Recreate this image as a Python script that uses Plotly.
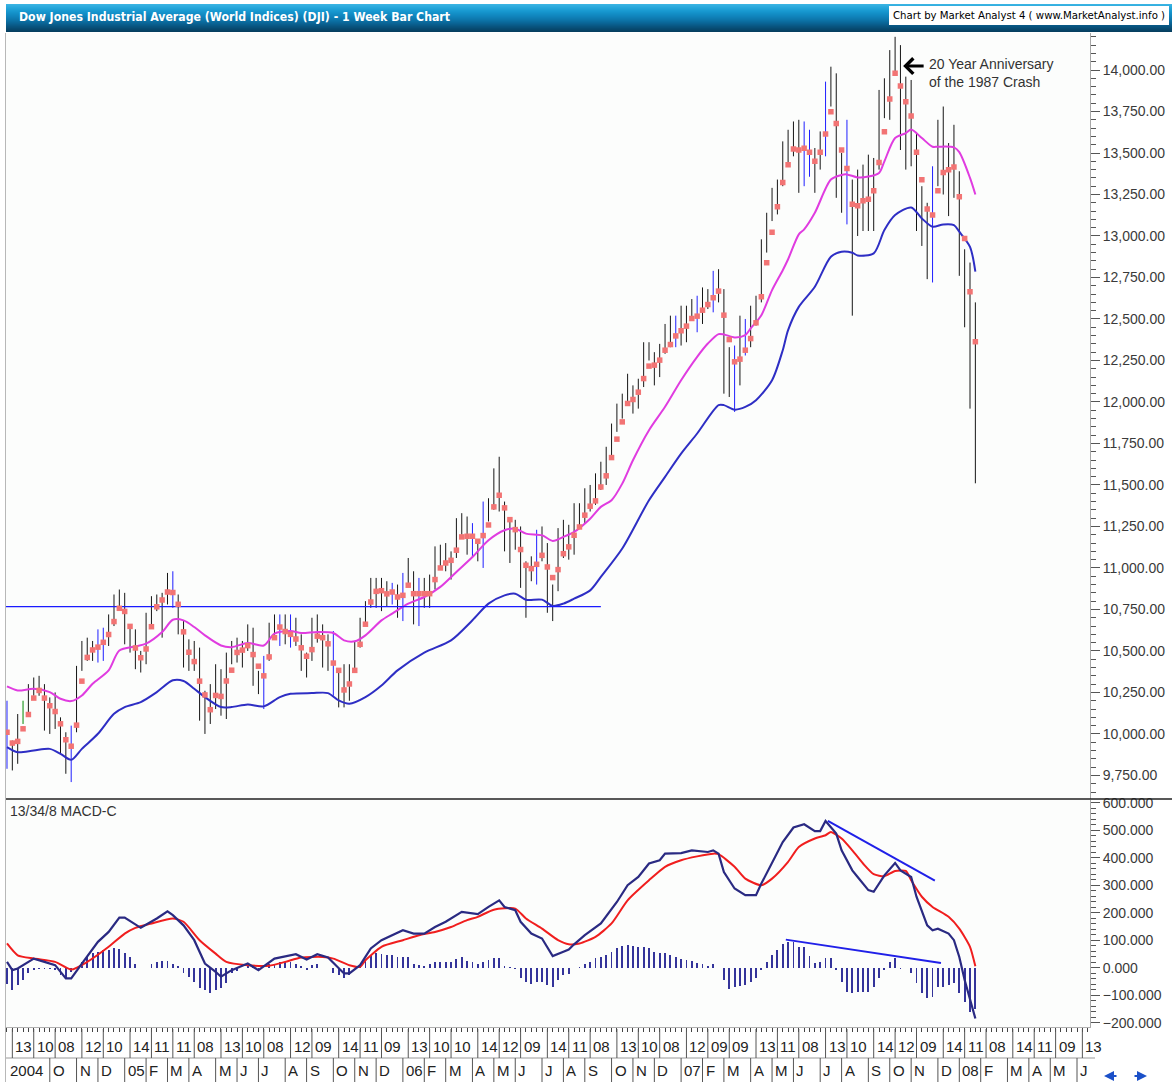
import plotly.graph_objects as go
import pandas as pd

# ---------------- DATA ----------------
# weekly bars, week ending Friday
week_dates = pd.date_range("2004-08-06", periods=182, freq="7D")

opens = [10140, 9815, 9825, 10110, 10195, 10260, 10314, 10284, 10047, 10192,
         10055, 9933, 9757, 10027, 10387, 10539, 10456, 10522, 10592, 10543,
         10661, 10827, 10783, 10603, 10558, 10392, 10427, 10716, 10796, 10785,
         10841, 10940, 10774, 10629, 10442, 10404, 10461, 10088, 10157, 10193,
         10345, 10140, 10471, 10542, 10460, 10513, 10623, 10297, 10303, 10449,
         10640, 10651, 10641, 10558, 10600, 10559, 10397, 10447, 10679, 10641,
         10420, 10569, 10292, 10287, 10215, 10402, 10531, 10686, 10766, 10932,
         10878, 10779, 10876, 10884, 10718, 10959, 10960, 10668, 10907, 10794,
         10920, 11115, 11062, 11022, 11076, 11279, 11280, 11109, 11120, 11137,
         11347, 11367, 11577, 11380, 11144, 11278, 11247, 10891, 11015, 10990,
         11150, 11090, 10739, 10868, 11219, 11240, 11089, 11381, 11284, 11464,
         11392, 11560, 11508, 11679, 11850, 11960, 12002, 12090, 11986, 12108,
         12342, 12280, 12194, 12307, 12445, 12343, 12463, 12398, 12556, 12565,
         12487, 12653, 12580, 12767, 12647, 12114, 12276, 12110, 12481, 12354,
         12560, 12612, 12961, 13120, 13265, 13327, 13556, 13507, 13668, 13424,
         13639, 13360, 13408, 13611, 13907, 13851, 13265, 13182, 13240, 13079,
         13379, 13358, 13113, 13442, 13820, 13896, 14066, 14093, 13522, 13807,
         13595, 13042, 13177, 12980, 13372, 13626, 13340, 13450, 13366, 12800,
         12606, 12099]

highs = [10200, 9960, 10120, 10200, 10300, 10340, 10350, 10300, 10220, 10250,
         10100, 10010, 10050, 10410, 10560, 10580, 10560, 10630, 10640, 10720,
         10840, 10870, 10850, 10660, 10630, 10500, 10730, 10830, 10840, 10850,
         10970, 10980, 10840, 10680, 10570, 10560, 10520, 10260, 10300, 10420,
         10390, 10490, 10560, 10580, 10560, 10660, 10640, 10380, 10470, 10670,
         10720, 10720, 10720, 10720, 10700, 10600, 10490, 10700, 10720, 10660,
         10600, 10620, 10380, 10420, 10420, 10560, 10700, 10800, 10940, 10940,
         10940, 10920, 10910, 10900, 10970, 11060, 10980, 10940, 10940, 10960,
         11130, 11140, 11150, 11100, 11300, 11330, 11310, 11270, 11160, 11400,
         11420, 11600, 11670, 11400, 11300, 11290, 11250, 11040, 11070, 11230,
         11250, 11150, 10900, 11240, 11290, 11260, 11390, 11390, 11480, 11500,
         11570, 11640, 11730, 11870, 11990, 12050, 12170, 12100, 12140, 12360,
         12360, 12300, 12350, 12470, 12520, 12520, 12580, 12580, 12620, 12640,
         12690, 12680, 12790, 12800, 12680, 12330, 12340, 12520, 12500, 12580,
         12640, 12980, 13140, 13290, 13340, 13570, 13640, 13690, 13700, 13690,
         13640, 13530, 13630, 13930, 14020, 13980, 13500, 13700, 13340, 13400,
         13430, 13490, 13470, 13880, 13950, 14120, 14200, 14150, 13960, 13940,
         13620, 13300, 13200, 13420, 13700, 13780, 13560, 13670, 13390, 12920,
         12840, 12600]

lows = [9790, 9780, 9820, 10060, 10120, 10230, 10230, 10020, 10000, 10030,
        9880, 9760, 9710, 10010, 10380, 10440, 10440, 10430, 10440, 10530,
        10650, 10760, 10540, 10490, 10390, 10370, 10420, 10650, 10740, 10580,
        10780, 10760, 10600, 10400, 10380, 10380, 10080, 10000, 10060, 10150,
        10110, 10090, 10420, 10430, 10400, 10500, 10290, 10240, 10150, 10440,
        10570, 10530, 10540, 10520, 10530, 10380, 10340, 10440, 10550, 10400,
        10380, 10230, 10160, 10160, 10200, 10390, 10520, 10650, 10760, 10760,
        10740, 10770, 10780, 10700, 10680, 10900, 10660, 10650, 10760, 10760,
        10870, 11000, 10980, 10930, 11060, 11200, 11080, 11060, 11040, 11000,
        11280, 11350, 11340, 11100, 11030, 11110, 10880, 10700, 10920, 10900,
        11040, 10730, 10680, 10860, 11060, 11050, 11080, 11240, 11270, 11340,
        11380, 11470, 11500, 11660, 11820, 11900, 11990, 11930, 11960, 12090,
        12250, 12100, 12150, 12290, 12330, 12330, 12340, 12360, 12500, 12420,
        12470, 12560, 12540, 12600, 12050, 12030, 11940, 12100, 12280, 12330,
        12460, 12600, 12900, 13090, 13130, 13300, 13430, 13480, 13260, 13300,
        13357, 13260, 13400, 13480, 13780, 13230, 13140, 13070, 12520, 13000,
        13030, 13030, 13030, 13400, 13710, 13700, 13990, 13518, 13400, 13420,
        13030, 12940, 12740, 12720, 13300, 13250, 13120, 13230, 12760, 12450,
        11960, 11510]

closes = [9815, 9825, 10110, 10195, 10260, 10314, 10284, 10047, 10192, 10055,
          9933, 9757, 10027, 10387, 10539, 10456, 10522, 10592, 10543, 10661,
          10827, 10783, 10603, 10558, 10392, 10427, 10716, 10796, 10785, 10841,
          10940, 10774, 10629, 10442, 10404, 10461, 10088, 10157, 10193, 10345,
          10140, 10471, 10542, 10460, 10513, 10623, 10297, 10303, 10449, 10640,
          10651, 10641, 10558, 10600, 10559, 10397, 10447, 10679, 10641, 10420,
          10569, 10292, 10287, 10215, 10402, 10531, 10686, 10766, 10932, 10878,
          10779, 10876, 10884, 10718, 10959, 10960, 10668, 10907, 10794, 10920,
          11115, 11062, 11022, 11076, 11279, 11280, 11109, 11120, 11137, 11347,
          11367, 11577, 11380, 11144, 11278, 11247, 10891, 11015, 10990, 11150,
          11090, 10739, 10868, 11219, 11240, 11089, 11381, 11284, 11464, 11392,
          11560, 11508, 11679, 11850, 11960, 12002, 12090, 11986, 12108, 12342,
          12280, 12194, 12307, 12445, 12343, 12463, 12398, 12556, 12565, 12487,
          12653, 12580, 12767, 12647, 12114, 12276, 12110, 12481, 12354, 12560,
          12612, 12961, 13120, 13265, 13327, 13556, 13507, 13668, 13424, 13639,
          13360, 13408, 13611, 13907, 13851, 13265, 13182, 13240, 13079, 13379,
          13358, 13113, 13442, 13820, 13896, 14066, 14093, 13522, 13807, 13595,
          13042, 13177, 12980, 13372, 13626, 13340, 13450, 13366, 12800, 12606,
          12099, 12207]

# red markers (short average shown on each bar)
red_dots = [10010, 9945, 9955, 10031, 10117, 10216, 10262, 10216, 10170, 10135,
            10061, 9965, 9926, 10053, 10318, 10461, 10506, 10523, 10552, 10599,
            10677, 10757, 10738, 10648, 10518, 10459, 10512, 10646, 10766, 10807,
            10855, 10852, 10781, 10615, 10492, 10436, 10318, 10235, 10146, 10232,
            10226, 10319, 10384, 10491, 10505, 10532, 10478, 10408, 10350, 10464,
            10580, 10644, 10617, 10600, 10572, 10519, 10468, 10508, 10589, 10580,
            10543, 10427, 10383, 10265, 10301, 10383, 10540, 10661, 10795, 10859,
            10863, 10844, 10855, 10825, 10835, 10896, 10845, 10845, 10845, 10845,
            10930, 11000, 11030, 11046, 11107, 11187, 11191, 11191, 11161, 11195,
            11259, 11368, 11438, 11362, 11291, 11231, 11111, 11016, 10996, 11022,
            11076, 11006, 10942, 10990, 11086, 11127, 11197, 11247, 11318, 11372,
            11404, 11488, 11555, 11665, 11776, 11880, 11991, 12015, 12059, 12141,
            12216, 12222, 12252, 12312, 12346, 12398, 12429, 12457, 12503, 12517,
            12553, 12587, 12628, 12668, 12523, 12376, 12242, 12258, 12312, 12382,
            12477, 12634, 12839, 13022, 13176, 13323, 13429, 13524, 13518, 13528,
            13504, 13451, 13504, 13614, 13749, 13678, 13518, 13407, 13192, 13182,
            13212, 13222, 13273, 13443, 13628, 13825, 13980, 13904, 13809, 13723,
            13504, 13339, 13162, 13126, 13273, 13383, 13399, 13415, 13237, 12985,
            12664, 12363]

blue_bar_weeks = [0, 12, 17, 18, 31, 48, 51, 53, 61, 72, 74, 77, 87, 89, 99,
                  125, 129, 132, 136, 138, 149, 150, 153, 157, 173]
green_bar_weeks = [3]

# moving averages read at sample weeks
ma_fast_weeks = [0, 2, 5, 8, 10, 12, 14, 16, 19, 21, 24, 26, 29, 31, 33, 35, 37, 40, 42, 45,
                 48, 50, 53, 55, 58, 61, 63, 65, 67, 70, 72, 75, 78, 81, 84, 87, 90, 93, 95, 97,
                 100, 102, 104, 106, 109, 111, 113, 115, 117, 120, 123, 126, 129, 131, 133, 134,
                 136, 138, 139, 141, 143, 145, 146, 148, 149, 151, 154, 156, 157, 159, 161, 163,
                 164, 166, 168, 169, 171, 173, 174, 177, 178, 180, 181]
ma_fast_vals = [10286, 10262, 10272, 10252, 10212, 10198, 10232, 10302, 10383, 10503, 10527,
                10544, 10614, 10688, 10684, 10644, 10594, 10533, 10523, 10548, 10533, 10604,
                10620, 10608, 10614, 10608, 10564, 10558, 10594, 10684, 10725, 10785, 10825,
                10886, 10976, 11066, 11167, 11227, 11237, 11207, 11197, 11163, 11187, 11217,
                11297, 11368, 11408, 11508, 11649, 11830, 11971, 12131, 12272, 12352, 12409,
                12407, 12389, 12403, 12443, 12523, 12674, 12794, 12860, 13010, 13040, 13140,
                13340, 13368, 13371, 13353, 13358, 13380, 13450, 13590, 13620, 13642, 13590,
                13538, 13538, 13534, 13505, 13350, 13250]

ma_slow_weeks = [0, 2, 5, 8, 10, 12, 14, 17, 20, 22, 25, 28, 31, 33, 35, 37, 40, 42, 45, 48,
                 51, 53, 57, 60, 62, 64, 67, 70, 73, 78, 83, 87, 90, 93, 95, 97, 100, 102, 104,
                 106, 109, 111, 115, 120, 123, 126, 129, 133, 134, 136, 138, 140, 143, 145, 146,
                 148, 151, 154, 156, 158, 159, 162, 164, 166, 169, 171, 173, 175, 177, 178, 180, 181]
ma_slow_vals = [9921, 9890, 9900, 9910, 9880, 9844, 9910, 10001, 10121, 10162, 10192, 10252,
                10323, 10319, 10272, 10222, 10162, 10162, 10178, 10166, 10222, 10242, 10246,
                10246, 10202, 10182, 10222, 10292, 10383, 10490, 10564, 10685, 10785, 10835,
                10845, 10809, 10809, 10771, 10785, 10815, 10865, 10946, 11117, 11408, 11549,
                11689, 11810, 11981, 11981, 11954, 11970, 12011, 12131, 12312, 12433, 12573,
                12694, 12875, 12905, 12899, 12883, 12895, 13036, 13126, 13172, 13106, 13056,
                13070, 13066, 13026, 12935, 12785]

# MACD (13/34/8) read at sample weeks
macd_weeks = [0, 1, 2, 5, 7, 9, 11, 12, 14, 17, 19, 21, 22, 25, 28, 30, 31, 33, 35, 37, 39, 40,
              42, 45, 47, 50, 54, 56, 58, 60, 63, 64, 66, 68, 70, 72, 74, 76, 78, 80, 82, 85, 88,
              90, 92, 93, 95, 96, 98, 100, 101, 102, 104, 105, 106, 108, 111, 114, 116, 118, 120,
              122, 123, 126, 128, 131, 132, 133, 134, 136, 138, 140, 141, 143, 145, 147, 149, 151,
              152, 153, 155, 156, 158, 159, 161, 162, 164, 166, 167, 169, 170, 172, 173, 174, 176,
              177, 178, 179, 180, 181]
macd_vals = [21, -9, -3, 33, 21, 9, -39, -39, 15, 94, 130, 182, 182, 145, 179, 205, 191, 154, 100,
             15, -15, -33, -9, 15, -9, 33, 49, 30, 49, 37, -21, -21, 9, 70, 100, 118, 136, 124,
             124, 148, 167, 203, 195, 221, 245, 221, 209, 167, 124, 106, 76, 42, 58, 66, 85, 118,
             161, 239, 300, 330, 379, 391, 415, 417, 427, 421, 427, 415, 348, 288, 264, 264, 306,
             379, 457, 510, 522, 497, 497, 534, 488, 427, 354, 330, 282, 276, 336, 381, 354, 330,
             258, 154, 136, 142, 124, 100, 39, -45, -118, -185]

signal_weeks = [0, 2, 5, 9, 12, 15, 19, 22, 24, 27, 31, 33, 36, 39, 41, 45, 49, 52, 55, 59, 61,
                64, 66, 67, 70, 74, 77, 80, 83, 86, 88, 91, 95, 97, 100, 103, 105, 107, 110, 113,
                116, 120, 123, 126, 129, 132, 133, 136, 138, 141, 143, 146, 148, 151, 153, 154,
                156, 158, 160, 162, 164, 166, 168, 169, 171, 173, 176, 178, 180, 181]
signal_vals = [88, 45, 33, 21, -7, 21, 76, 124, 145, 161, 179, 167, 100, 51, 21, 9, 7, 21, 37, 39,
               33, 9, 3, 27, 76, 100, 118, 130, 148, 173, 185, 211, 215, 179, 142, 100, 85, 88, 112,
               161, 245, 318, 367, 391, 405, 415, 413, 367, 324, 300, 324, 385, 439, 470, 482, 494,
               470, 427, 379, 340, 333, 352, 352, 318, 258, 221, 185, 142, 76, 5]

macd_hist = [-60, -82, -63, -45, -21, -8, -4, -6, -6, -8, -27, -39, -15, 0, 22, 40, 52, 58, 64, 66,
             70, 68, 52, 37, 12, 0, 0, 15, 22, 25, 25, 15, 6, -21, -33, -51, -75, -82, -91, -82,
             -75, -55, -21, -11, 0, 10, 10, -11, 0, 12, 15, 19, 22, 22, 15, 6, -8, 10, 12, 0,
             0, -21, -27, -39, -27, 0, 10, 30, 46, 52, 50, 46, 46, 37, 37, 37, 15, 10, 7, 15,
             22, 22, 22, 22, 30, 37, 25, 19, 13, 22, 28, 34, 34, 6, 2, -4, -39, -51, -60, -51,
             -51, -63, -70, -45, -27, -23, 0, 2, 15, 22, 34, 40, 46, 58, 70, 78, 82, 78, 76, 76,
             73, 58, 54, 54, 46, 40, 30, 28, 25, 18, 15, 7, 12, 0, -45, -79, -70, -67, -63, -51,
             -39, -8, 22, 46, 64, 85, 94, 94, 76, 76, 42, 18, 22, 34, 34, -8, -51, -88, -91, -88,
             -88, -88, -72, -39, -8, 22, 34, -6, 0, -21, -57, -94, -112, -106, -70, -70, -63, -57,
             -94, -124, -160, -150]

# drawn lines
support_dates = ["2004-08-04", "2006-09-22"]
support_levels = [10767, 10767]
macd_trend_top_dates = ["2007-07-16", "2007-12-03"]
macd_trend_top_vals = [534, 317]
macd_trend_hist_dates = ["2007-05-22", "2007-12-11"]
macd_trend_hist_vals = [102, 17]

# axis labels
day_tick_dates = ["2004-08-13", "2004-09-10", "2004-10-08", "2004-11-12", "2004-12-10",
                  "2005-01-14", "2005-02-11", "2005-03-11", "2005-04-08", "2005-05-13",
                  "2005-06-10", "2005-07-08", "2005-08-12", "2005-09-09", "2005-10-14",
                  "2005-11-11", "2005-12-09", "2006-01-13", "2006-02-10", "2006-03-10",
                  "2006-04-14", "2006-05-12", "2006-06-09", "2006-07-14", "2006-08-11",
                  "2006-09-08", "2006-10-13", "2006-11-10", "2006-12-08", "2007-01-12",
                  "2007-02-09", "2007-03-09", "2007-04-13", "2007-05-11", "2007-06-08",
                  "2007-07-13", "2007-08-10", "2007-09-14", "2007-10-12", "2007-11-09",
                  "2007-12-14", "2008-01-11", "2008-02-08", "2008-03-14", "2008-04-11",
                  "2008-05-09", "2008-06-13"]
day_tick_text = ["13", "10", "08", "12", "10", "14", "11", "11", "08", "13", "10", "08", "12",
                 "09", "14", "11", "09", "13", "10", "10", "14", "12", "09", "14", "11", "08",
                 "13", "10", "08", "12", "09", "09", "13", "11", "08", "13", "10", "14", "12",
                 "09", "14", "11", "08", "14", "11", "09", "13"]
month_dates = ["2004-08-06", "2004-10-01", "2004-11-05", "2004-12-03", "2005-01-07",
               "2005-02-04", "2005-03-04", "2005-04-01", "2005-05-06", "2005-06-03",
               "2005-07-01", "2005-08-05", "2005-09-02", "2005-10-07", "2005-11-04",
               "2005-12-02", "2006-01-06", "2006-02-03", "2006-03-03", "2006-04-07",
               "2006-05-05", "2006-06-02", "2006-07-07", "2006-08-04", "2006-09-01",
               "2006-10-06", "2006-11-03", "2006-12-01", "2007-01-05", "2007-02-02",
               "2007-03-02", "2007-04-06", "2007-05-04", "2007-06-01", "2007-07-06",
               "2007-08-03", "2007-09-07", "2007-10-05", "2007-11-02", "2007-12-07",
               "2008-01-04", "2008-02-01", "2008-03-07", "2008-04-04", "2008-05-02",
               "2008-06-06"]
month_text = ["2004", "O", "N", "D", "05", "F", "M", "A", "M", "J", "J", "A", "S", "O", "N",
              "D", "06", "F", "M", "A", "M", "J", "J", "A", "S", "O", "N", "D", "07", "F", "M",
              "A", "M", "J", "J", "A", "S", "O", "N", "D", "08", "F", "M", "A", "M", "J"]

# ---------------- LAYOUT HELPERS ----------------
W, H = 1172, 1082
def py(p):
    return 1 - p / H
def pxx(p):
    return p / W

FONT = "Liberation Sans, Arial, sans-serif"
COND = "DejaVu Sans Condensed, Liberation Sans Narrow, Arial Narrow, sans-serif"
X = list(week_dates)

fig = go.Figure()

# ---------------- PRICE PANEL ----------------
black_weeks = [i for i in range(len(closes)) if i not in blue_bar_weeks and i not in green_bar_weeks]
for idx, col in ((black_weeks, "#161616"), (blue_bar_weeks, "#1f1fff"), (green_bar_weeks, "#008a00")):
    fig.add_trace(go.Ohlc(
        x=[X[i] for i in idx], open=[opens[i] for i in idx], high=[highs[i] for i in idx],
        low=[lows[i] for i in idx], close=[closes[i] for i in idx],
        increasing=dict(line=dict(color=col)), decreasing=dict(line=dict(color=col)),
        line=dict(width=1), tickwidth=0.45, xaxis="x", yaxis="y",
        showlegend=False, hoverinfo="skip"))

fig.add_trace(go.Scatter(x=[X[i] for i in ma_fast_weeks], y=ma_fast_vals, mode="lines",
                         line=dict(color="#e03ce0", width=2, shape="spline", smoothing=0.8),
                         xaxis="x", yaxis="y", showlegend=False, hoverinfo="skip"))
fig.add_trace(go.Scatter(x=[X[i] for i in ma_slow_weeks], y=ma_slow_vals, mode="lines",
                         line=dict(color="#2e2ec4", width=2, shape="spline", smoothing=0.8),
                         xaxis="x", yaxis="y", showlegend=False, hoverinfo="skip"))
fig.add_trace(go.Scatter(x=support_dates, y=support_levels, mode="lines",
                         line=dict(color="#1a1aff", width=1.3),
                         xaxis="x", yaxis="y", showlegend=False, hoverinfo="skip"))
fig.add_trace(go.Scatter(x=X, y=red_dots, mode="markers",
                         marker=dict(symbol="square", size=5.5, color="#f27474", line=dict(width=0)),
                         xaxis="x", yaxis="y", showlegend=False, hoverinfo="skip"))

# ---------------- MACD PANEL ----------------
fig.add_trace(go.Bar(x=X, y=macd_hist, width=2.1e8, marker=dict(color="#34349a", line=dict(width=0)),
                     xaxis="x2", yaxis="y2", showlegend=False, hoverinfo="skip"))
fig.add_trace(go.Scatter(x=[X[i] for i in signal_weeks], y=signal_vals, mode="lines",
                         line=dict(color="#f01e1e", width=2, shape="spline", smoothing=0.6),
                         xaxis="x2", yaxis="y2", showlegend=False, hoverinfo="skip"))
fig.add_trace(go.Scatter(x=[X[i] for i in macd_weeks], y=macd_vals, mode="lines",
                         line=dict(color="#2a2a82", width=2.2),
                         xaxis="x2", yaxis="y2", showlegend=False, hoverinfo="skip"))
fig.add_trace(go.Scatter(x=macd_trend_top_dates, y=macd_trend_top_vals, mode="lines",
                         line=dict(color="#2020e8", width=2),
                         xaxis="x2", yaxis="y2", showlegend=False, hoverinfo="skip"))
fig.add_trace(go.Scatter(x=macd_trend_hist_dates, y=macd_trend_hist_vals, mode="lines",
                         line=dict(color="#2020e8", width=2),
                         xaxis="x2", yaxis="y2", showlegend=False, hoverinfo="skip"))

xr = ["2004-08-04 17:00", "2008-06-23 00:00"]
xdom = [pxx(6), pxx(1090)]
tickfont = dict(family=FONT, size=14, color="#3a3a3a")

fig.update_layout(
    width=W, height=H, margin=dict(l=0, r=0, t=0, b=0, autoexpand=False),
    paper_bgcolor="white", plot_bgcolor="#fcfdfc",
    xaxis=dict(domain=xdom, range=xr, type="date", anchor="y", showticklabels=False,
               rangeslider=dict(visible=False), automargin=False,
               showgrid=False, zeroline=False, showline=False, ticks=""),
    yaxis=dict(domain=[py(798.5), py(33)], range=[9611, 14223], side="right", anchor="x",
               automargin=False,
               showgrid=False, zeroline=False, showline=True, linecolor="#a8a8a8", linewidth=1,
               tickmode="linear", tick0=9750, dtick=250, tickformat=",.2f",
               ticks="outside", ticklen=9, tickcolor="#555", tickfont=tickfont,
               minor=dict(ticks="outside", ticklen=5, dtick=50, tick0=9750, tickcolor="#555")),
    xaxis2=dict(domain=xdom, range=xr, type="date", anchor="y2", matches="x", showticklabels=False,
                rangeslider=dict(visible=False), automargin=False,
                showgrid=False, zeroline=False, showline=True, linecolor="#b0b0b0",
                tickmode="linear", tick0="2004-08-06", dtick=7 * 86400000,
                ticks="outside", ticklen=4, tickcolor="#444"),
    yaxis2=dict(domain=[py(1027), py(799.5)], range=[-216, 612], side="right", anchor="x2",
                automargin=False,
                showgrid=False, zeroline=False, showline=True, linecolor="#a8a8a8",
                tickmode="linear", tick0=0, dtick=100, tickformat=".3f",
                ticks="outside", ticklen=9, tickcolor="#555", tickfont=tickfont,
                minor=dict(ticks="outside", ticklen=5, dtick=20, tickcolor="#555")),
    bargap=0,
)

shapes = []
# title bar gradient
grad = ["#3ab3e2", "#33afe0", "#2dabde", "#27a7db", "#22a3d8", "#1e9fd5", "#1a9bd2", "#1797cf",
        "#1593cb", "#138fc7", "#128bc3", "#1187bf", "#1083bb", "#0f7fb6", "#0e7bb1", "#0d77ac",
        "#0c72a6", "#0b6da0", "#0a689a", "#0a6394", "#095e8d", "#095986", "#08547f", "#085079",
        "#074b72", "#07476c", "#064366", "#063f60"]
for k, c in enumerate(grad):
    shapes.append(dict(type="rect", xref="paper", yref="paper", x0=pxx(6), x1=1,
                       y0=py(4 + k + 1), y1=py(4 + k), fillcolor=c, line=dict(width=0), layer="below"))
# credit box
shapes.append(dict(type="rect", xref="paper", yref="paper", x0=pxx(889), x1=pxx(1169),
                   y0=py(25), y1=py(6), fillcolor="white", line=dict(width=0), layer="below"))
# panel separators
shapes.append(dict(type="line", xref="paper", yref="paper", x0=pxx(6), x1=pxx(1172),
                   y0=py(799), y1=py(799), line=dict(color="#202020", width=1.5)))
shapes.append(dict(type="line", xref="paper", yref="paper", x0=pxx(6), x1=pxx(1095),
                   y0=py(1058), y1=py(1058), line=dict(color="#9a9a9a", width=1)))
shapes.append(dict(type="line", xref="paper", yref="paper", x0=pxx(5.5), x1=pxx(5.5),
                   y0=py(1082), y1=py(33), line=dict(color="#b8b8b8", width=1)))
# x-axis label grid
for d in day_tick_dates:
    shapes.append(dict(type="line", xref="x2", yref="paper", x0=d, x1=d, y0=py(1058), y1=py(1029),
                       line=dict(color="#555", width=1)))
for d in month_dates[1:]:
    shapes.append(dict(type="line", xref="x2", yref="paper", x0=d, x1=d, y0=py(1082), y1=py(1058),
                       line=dict(color="#555", width=1)))
fig.update_layout(shapes=shapes)

ann = []
ann.append(dict(text="<b>Dow Jones Industrial Average (World Indices) (DJI) - 1 Week Bar Chart</b>",
                x=pxx(17), y=py(17), xref="paper", yref="paper", xanchor="left", yanchor="middle",
                showarrow=False, font=dict(family=COND, size=12.2, color="white")))
ann.append(dict(text="Chart by Market Analyst 4 ( www.MarketAnalyst.info )",
                x=pxx(891), y=py(15.5), xref="paper", yref="paper", xanchor="left", yanchor="middle",
                showarrow=False, font=dict(family=COND, size=11.3, color="black")))
ann.append(dict(text="13/34/8 MACD-C", x=pxx(8), y=py(811), xref="paper", yref="paper",
                xanchor="left", yanchor="middle", showarrow=False,
                font=dict(family=FONT, size=14, color="#333")))
ann.append(dict(text="20 Year Anniversary<br>of the 1987 Crash", x=pxx(927), y=py(73),
                xref="paper", yref="paper", xanchor="left", yanchor="middle", align="left",
                showarrow=False, font=dict(family=FONT, size=14, color="#333")))
ann.append(dict(text="", x="2007-10-22 12:00", y=14024, xref="x", yref="y", showarrow=True,
                ax=22, ay=0, arrowhead=4, arrowsize=1, arrowwidth=3, arrowcolor="black"))
for d, t in zip(day_tick_dates, day_tick_text):
    ann.append(dict(text=t, x=d, y=py(1046), xref="x2", yref="paper", xanchor="left",
                    yanchor="middle", xshift=1, showarrow=False,
                    font=dict(family=FONT, size=15, color="#222")))
for d, t in zip(month_dates, month_text):
    ann.append(dict(text=t, x=d, y=py(1070), xref="x2", yref="paper", xanchor="left",
                    yanchor="middle", xshift=1, showarrow=False,
                    font=dict(family=FONT, size=15, color="#222")))
# scroll buttons (bottom right)
ann.append(dict(text="", x=pxx(1104), y=py(1076), xref="paper", yref="paper", ax=14, ay=0,
                showarrow=True, arrowhead=2, arrowwidth=2, arrowcolor="#1b50c8"))
ann.append(dict(text="", x=pxx(1147), y=py(1076), xref="paper", yref="paper", ax=-14, ay=0,
                showarrow=True, arrowhead=2, arrowwidth=2, arrowcolor="#1b50c8"))
fig.update_layout(annotations=ann)

fig.write_html("out.html", config={"displayModeBar": False, "staticPlot": True},
               post_script="document.body.style.margin='0px';document.body.style.overflow='hidden';")
